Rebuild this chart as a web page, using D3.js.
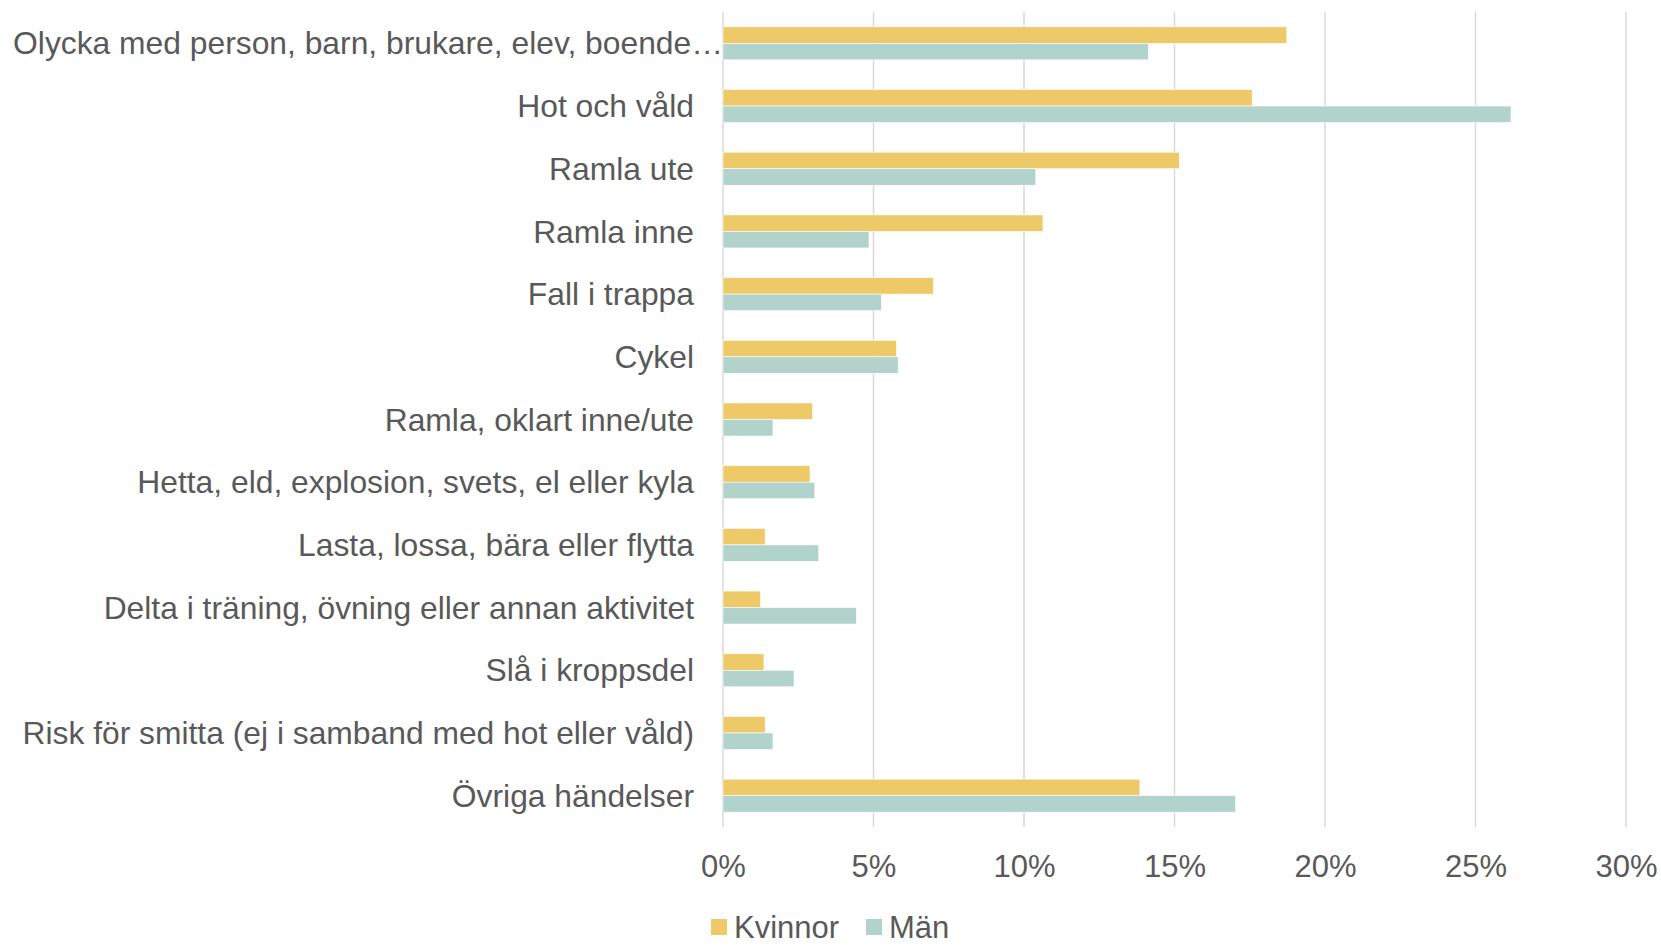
<!DOCTYPE html>
<html><head><meta charset="utf-8">
<script src="https://cdn.jsdelivr.net/npm/d3@7"></script>
<style>
html,body{margin:0;padding:0;background:#fff;}
svg{display:block;font-family:"Liberation Sans",Arial,sans-serif;}
</style></head>
<body>
<svg id="chart" width="1661" height="946"></svg>
<script>
const categories = [
  "Olycka med person, barn, brukare, elev, boende…",
  "Hot och våld",
  "Ramla ute",
  "Ramla inne",
  "Fall i trappa",
  "Cykel",
  "Ramla, oklart inne/ute",
  "Hetta, eld, explosion, svets, el eller kyla",
  "Lasta, lossa, bära eller flytta",
  "Delta i träning, övning eller annan aktivitet",
  "Slå i kroppsdel",
  "Risk för smitta (ej i samband med hot eller våld)",
  "Övriga händelser"
];
const kvinnor = [18.73, 17.58, 15.16, 10.63, 6.99, 5.76, 2.98, 2.89, 1.40, 1.25, 1.36, 1.40, 13.85];
const man     = [14.13, 26.18, 10.39, 4.85, 5.26, 5.82, 1.66, 3.05, 3.18, 4.43, 2.36, 1.66, 17.03];
const seriesNames = ["Kvinnor", "Män"];
const seriesColors = ["#EDC967", "#B1D3CB"];
const xTicks = [0, 5, 10, 15, 20, 25, 30];

(function(){
const svg = d3.select("#chart");
const pLeft = 723, pRight = 1626, pTop = 12, pBottom = 827;
const textColor = "#595959";

const x = d3.scaleLinear().domain([0, 30]).range([pLeft, pRight]);
const y = d3.scaleBand().domain(categories).range([pTop, pBottom]).paddingInner(0.4736).paddingOuter(0.2368);
const ys = d3.scaleBand().domain(seriesNames).range([0, y.bandwidth()]);

// gridlines
svg.append("g").selectAll("line").data(xTicks).join("line")
  .attr("x1", d => x(d)).attr("x2", d => x(d))
  .attr("y1", pTop).attr("y2", pBottom)
  .attr("stroke", "#D9D9D9").attr("stroke-width", 1.5);

// bars
const data = categories.map((c, i) => ({c, vals: [kvinnor[i], man[i]]}));
const g = svg.append("g").selectAll("g").data(data).join("g")
  .attr("transform", d => `translate(0,${y(d.c)})`);
g.selectAll("rect").data(d => d.vals.map((v, j) => ({v, s: seriesNames[j], j})))
  .join("rect")
  .attr("x", x(0))
  .attr("y", d => ys(d.s))
  .attr("width", d => x(d.v) - x(0))
  .attr("height", ys.bandwidth())
  .attr("fill", d => seriesColors[d.j])
  .attr("stroke", "#fff").attr("stroke-width", 0.6);

// category labels
const yAx = svg.append("g").attr("transform", `translate(${pLeft - 29},0)`)
  .call(d3.axisLeft(y).tickSize(0).tickPadding(0));
yAx.select(".domain").remove();
yAx.selectAll("text")
  .attr("font-size", 31.8).attr("fill", textColor)
  .attr("font-family", "Liberation Sans, Arial, sans-serif")
  .attr("dy", "0.35em");
yAx.selectAll(".tick").filter((d, i) => i === 0).select("text").attr("x", 29);

// x axis tick labels
const xa = svg.append("g").attr("transform", `translate(0,${pBottom})`)
  .call(d3.axisBottom(x).tickValues(xTicks).tickFormat(d => d + "%").tickSize(0).tickPadding(0));
xa.select(".domain").remove();
xa.selectAll("text")
  .attr("font-size", 31).attr("fill", textColor)
  .attr("font-family", "Liberation Sans, Arial, sans-serif")
  .attr("dy", null).attr("y", 50);

// legend
const legendPos = [711, 866];
const lg = svg.append("g").selectAll("g").data(seriesNames).join("g")
  .attr("transform", (d, i) => `translate(${legendPos[i]},919)`);
lg.append("rect").attr("width", 16).attr("height", 16).attr("fill", (d, i) => seriesColors[i]);
lg.append("text").attr("x", 23).attr("y", 19).text(d => d)
  .attr("font-size", 31).attr("fill", textColor);
})();
</script>
</body></html>
